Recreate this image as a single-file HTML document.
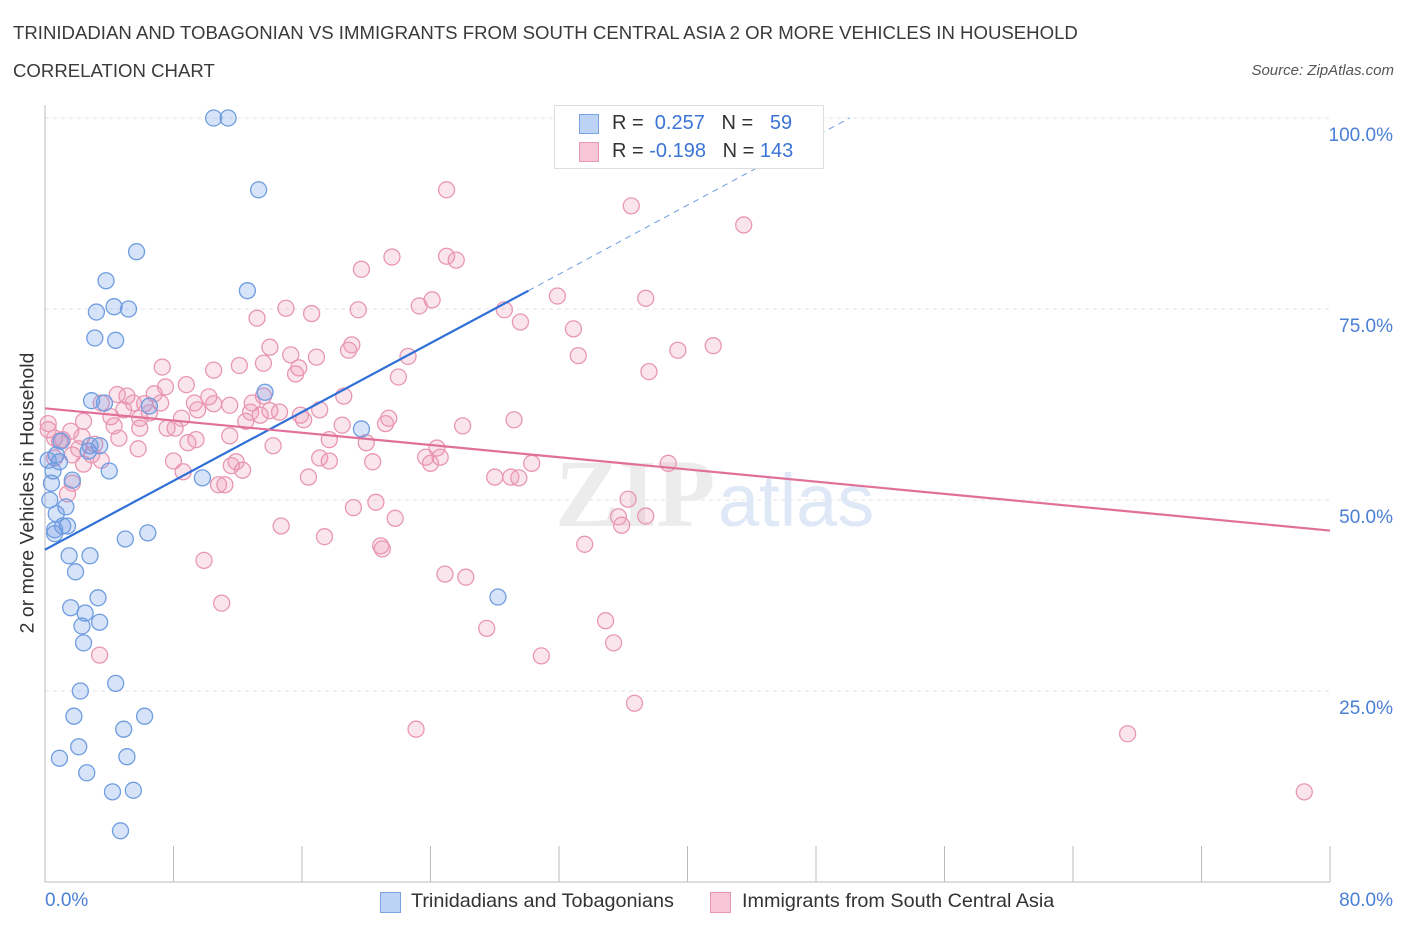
<!DOCTYPE html>
<html><head><meta charset="utf-8">
<style>
body{margin:0;background:#fff;font-family:"Liberation Sans",sans-serif;}
#wrap{position:relative;width:1406px;height:930px;overflow:hidden;}
.t{position:absolute;white-space:nowrap;}
</style></head>
<body>
<div id="wrap">
<div class="t" style="left:13px;top:22px;font-size:18.6px;color:#3a3a3a;">TRINIDADIAN AND TOBAGONIAN VS IMMIGRANTS FROM SOUTH CENTRAL ASIA 2 OR MORE VEHICLES IN HOUSEHOLD</div>
<div class="t" style="left:13px;top:60px;font-size:18.6px;color:#3a3a3a;">CORRELATION CHART</div>
<div class="t" style="right:12px;top:62px;font-size:15px;color:#555;font-style:italic;">Source: ZipAtlas.com</div>
<svg id="svg" width="1406" height="930" style="position:absolute;left:0;top:0"></svg>
</div>
<script>
const blueX=[10.5,11.4,13.3,5.7,3.8,12.6,4.3,5.2,3.2,3.1,4.4,13.7,2.9,3.7,6.5,19.7,2.8,2.7,1.0,0.5,4.0,1.7,0.4,0.3,0.7,1.3,1.1,1.4,0.6,6.4,5.0,1.5,2.8,1.9,9.8,3.3,1.6,2.5,3.4,2.3,2.4,28.2,4.4,2.2,1.8,6.2,4.9,2.1,0.9,5.1,2.6,4.2,5.5,4.7,0.7,0.9,0.2,0.6,3.4];
const blueY=[100,100,90.6,82.5,78.7,77.4,75.3,75.0,74.6,71.2,70.9,64.1,63.0,62.7,62.3,59.3,57.1,56.4,57.7,53.8,53.8,52.6,52.2,50.0,48.2,49.1,46.6,46.6,45.6,45.7,44.9,42.7,42.7,40.6,52.9,37.2,35.9,35.2,34.0,33.5,31.3,37.3,26.0,25.0,21.7,21.7,20.0,17.7,16.2,16.4,14.3,11.8,12.0,6.7,55.9,55.0,55.2,46.1,57.1];
const pinkX=[25.0,36.5,43.5,21.6,25.0,25.6,19.7,31.9,37.4,24.1,23.3,28.6,15.0,16.6,19.5,13.2,29.6,32.9,41.6,39.4,19.1,18.9,14.0,22.6,15.3,16.9,33.2,13.6,12.1,7.3,10.5,15.8,15.6,37.6,22.0,8.8,7.5,4.5,5.1,6.8,10.2,18.6,13.6,3.5,9.3,12.9,5.5,6.2,7.2,10.5,4.9,11.5,17.1,14.6,12.8,14.0,6.5,9.5,13.4,15.9,4.1,5.9,8.5,2.4,16.1,21.4,12.5,29.2,21.2,18.5,26.0,4.3,5.9,7.6,8.1,1.6,0.2,0.6,1.1,11.5,4.6,17.7,9.4,20.0,8.9,0.9,3.1,14.2,5.8,2.1,24.4,1.7,2.9,23.7,24.6,17.1,0.6,3.5,17.7,20.4,2.4,24.0,8.0,11.9,30.3,38.8,11.6,12.3,8.6,16.4,28.0,29.0,29.5,1.7,10.8,11.2,1.4,36.3,20.6,19.2,21.8,35.7,37.4,35.9,14.7,17.4,33.6,20.9,21.0,9.9,24.9,26.2,11.0,34.9,27.5,35.4,3.4,30.9,36.7,23.1,67.4,78.4,0.2,2.3];
const pinkY=[90.6,88.5,86.0,81.8,81.9,81.4,80.2,76.7,76.4,76.2,75.4,74.9,75.1,74.4,74.9,73.8,73.3,72.4,70.2,69.6,70.3,69.6,70.0,68.8,69.0,68.7,68.9,67.9,67.6,67.4,67.0,67.3,66.5,66.8,66.1,65.1,64.8,63.8,63.6,63.9,63.5,63.6,63.6,62.7,62.7,62.7,62.7,62.6,62.7,62.6,61.8,62.4,61.8,61.5,61.5,61.7,61.4,61.8,61.1,61.1,60.9,60.7,60.7,60.3,60.5,60.7,60.3,60.5,60.0,59.8,59.7,59.7,59.4,59.4,59.4,59.0,60.0,58.1,57.9,58.4,58.1,57.9,57.9,57.5,57.5,57.7,57.3,57.1,56.7,56.7,56.8,55.9,55.9,55.6,55.6,55.5,55.5,55.2,55.1,55.0,54.7,54.8,55.1,55.0,54.8,54.8,54.5,53.9,53.7,53.0,53.0,53.0,52.9,52.2,52.0,52.0,50.8,50.1,49.7,49.0,47.6,47.8,47.9,46.7,46.6,45.2,44.2,44.0,43.6,42.1,40.3,39.9,36.5,34.2,33.2,31.3,29.7,29.6,23.4,20.0,19.4,11.8,59.2,58.3];
const yTicks=[25,50,75,100];
const yTickLabels=["25.0%","50.0%","75.0%","100.0%"];
const xTicks=[0,8,16,24,32,40,48,56,64,72,80];
const blueTrend=[[0,43.5],[30.1,77.4]];
const blueDash=[[30.1,77.4],[50.1,100]];
const pinkTrend=[[0,62.0],[80,46.0]];

const X=v=>45+v/80*1285;
const Y=v=>882-v/100*764;
const svg=document.getElementById('svg');
const NS='http://www.w3.org/2000/svg';
function mk(tag,attrs,parent){const e=document.createElementNS(NS,tag);for(const k in attrs)e.setAttribute(k,attrs[k]);(parent||svg).appendChild(e);return e;}

yTicks.forEach((t,i)=>{
  const g=mk('line',{x1:45,x2:1330,y1:Y(t),y2:Y(t),stroke:'#e3e3e3','stroke-dasharray':'4,4'});
  
  
  const tx=mk('text',{x:1393,y:Y(t)+23,'text-anchor':'end','font-size':19,fill:'#4a7fd6','font-family':'Liberation Sans, sans-serif'});
  tx.textContent=yTickLabels[i];
  
  
});
const ya=mk('line',{x1:45,x2:45,y1:105,y2:882,stroke:'#bbb'});


const xa=mk('line',{x1:45,x2:1330,y1:882,y2:882,stroke:'#bbb'});


xTicks.forEach(t=>{
  const l=mk('line',{x1:X(t),x2:X(t),y1:846,y2:882,stroke:'#bbb'});
  
  
});
const wm=mk('text',{x:715,y:526,'text-anchor':'end','font-size':96,fill:'#ececec','font-family':'Liberation Serif, serif','font-weight':'bold'});
wm.textContent='ZIP';


const wm2=mk('text',{x:718,y:526,'font-size':74,fill:'#dfe8f7','font-family':'Liberation Sans, sans-serif'});
wm2.textContent='atlas';



for(let i=0;i<pinkX.length;i++){
  const c=mk('circle',{cx:X(pinkX[i]),cy:Y(pinkY[i]),r:8,fill:'rgba(240,150,180,0.25)',stroke:'#e897b3','stroke-width':1.3});
  
  
}
for(let i=0;i<blueX.length;i++){
  const c=mk('circle',{cx:X(blueX[i]),cy:Y(blueY[i]),r:8,fill:'rgba(110,155,230,0.28)',stroke:'#6e9de0','stroke-width':1.3});
  
  
}
const bt=mk('line',{x1:X(blueTrend[0][0]),y1:Y(blueTrend[0][1]),x2:X(blueTrend[1][0]),y2:Y(blueTrend[1][1]),stroke:'#2f6fd6','stroke-width':2.2});


const bd=mk('line',{x1:X(blueDash[0][0]),y1:Y(blueDash[0][1]),x2:X(blueDash[1][0]),y2:Y(blueDash[1][1]),stroke:'#6e9de0','stroke-width':1,'stroke-dasharray':'6,5'});


const pt=mk('line',{x1:X(pinkTrend[0][0]),y1:Y(pinkTrend[0][1]),x2:X(pinkTrend[1][0]),y2:Y(pinkTrend[1][1]),stroke:'#e0709a','stroke-width':2.2});


</script>

<div class="t" style="left:45px;top:890px;font-size:19px;color:#4a7fd6;">0.0%</div>
<div class="t" style="right:13px;top:890px;font-size:19px;color:#4a7fd6;">80.0%</div>
<div class="t" style="left:18px;top:493px;width:0;height:0;"><div style="position:absolute;left:0;top:0;transform:translate(-50%,-50%) rotate(-90deg);font-size:19.5px;color:#333;white-space:nowrap;margin-left:10px;">2 or more Vehicles in Household</div></div>

<div style="position:absolute;left:554px;top:105px;width:268px;height:62px;border:1px solid #ddd;background:#fff;">
  <div style="position:absolute;left:24px;top:8px;width:18px;height:18px;background:#bcd3f5;border:1px solid #7aa3e2;"></div>
  <div class="t" style="left:57px;top:6px;font-size:20px;color:#333;">R = &nbsp;<span style="color:#3b74d6">0.257</span> &nbsp;&nbsp;N = &nbsp;&nbsp;<span style="color:#3b74d6">59</span></div>
  <div style="position:absolute;left:24px;top:36px;width:18px;height:18px;background:#f8c6d6;border:1px solid #e897b3;"></div>
  <div class="t" style="left:57px;top:34px;font-size:20px;color:#333;">R = <span style="color:#3b74d6">-0.198</span> &nbsp;&nbsp;N = <span style="color:#3b74d6">143</span></div>
</div>

<div style="position:absolute;left:380px;top:892px;width:19px;height:19px;background:#bcd3f5;border:1px solid #7aa3e2;"></div>
<div class="t" style="left:411px;top:890px;font-size:19.8px;color:#333;">Trinidadians and Tobagonians</div>
<div style="position:absolute;left:710px;top:892px;width:19px;height:19px;background:#f8c6d6;border:1px solid #e897b3;"></div>
<div class="t" style="left:742px;top:890px;font-size:19.8px;color:#333;">Immigrants from South Central Asia</div>
</body></html>
